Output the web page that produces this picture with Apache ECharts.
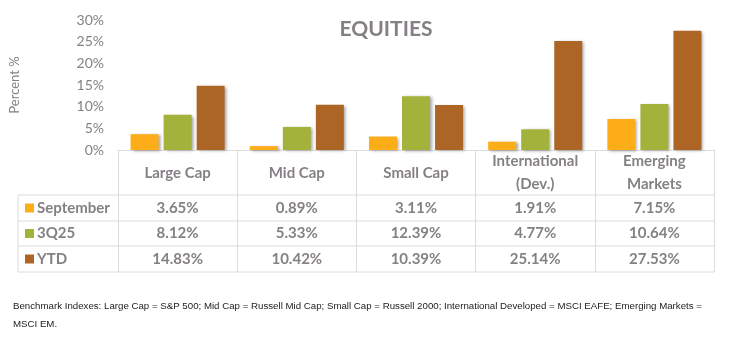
<!DOCTYPE html>
<html><head><meta charset="utf-8">
<script src="https://cdn.jsdelivr.net/npm/echarts@6/dist/echarts.min.js"></script>
<style>html,body{margin:0;padding:0;background:#fff}#c{width:735px;height:346px}</style>
</head><body><div id="c"></div>
<script>
const categories = ['Large Cap', 'Mid Cap', 'Small Cap', 'International\n(Dev.)', 'Emerging\nMarkets'];
const seriesNames = ['September', '3Q25', 'YTD'];
const september = [3.65, 0.89, 3.11, 1.91, 7.15];
const q3 = [8.12, 5.33, 12.39, 4.77, 10.64];
const ytd = [14.83, 10.42, 10.39, 25.14, 27.53];
const seriesColors = ['#FDAD18', '#A3B23A', '#AD6526'];
const footnote = 'Benchmark Indexes: Large Cap = S&P 500; Mid Cap = Russell Mid Cap; Small Cap = Russell 2000; International Developed = MSCI EAFE; Emerging Markets =\nMSCI EM.';

const seriesData = [september, q3, ytd];
const gray = '#858085';
const lineCol = '#DCDCDC';
const FONT = 'Lato, "Noto Sans", sans-serif';

const chart = echarts.init(document.getElementById('c'), null, {renderer: 'canvas'});
const GRID = {left: 118, right: 21, top: 20, bottom: 196};

chart.setOption({
  animation: false,
  textStyle: {fontFamily: FONT},
  title: {
    text: 'EQUITIES', left: 381, top: 14, textAlign: 'center',
    textStyle: {color: gray, fontSize: 21, fontWeight: 'bold', fontFamily: FONT}
  },
  grid: GRID,
  xAxis: {
    type: 'category', data: categories,
    axisLine: {show: true, lineStyle: {color: lineCol, width: 1}},
    axisTick: {show: true, alignWithLabel: false, length: 122, lineStyle: {color: lineCol}},
    axisLabel: {color: gray, fontSize: 15, fontWeight: 'bold', lineHeight: 23, verticalAlign: 'middle', margin: 23, fontFamily: FONT, interval: 0}
  },
  yAxis: {
    type: 'value', min: 0, max: 30, interval: 5,
    name: 'Percent %', nameLocation: 'middle', nameGap: 97, nameRotate: 90,
    nameTextStyle: {color: gray, fontSize: 13, fontFamily: FONT},
    axisLine: {show: false}, axisTick: {show: false}, splitLine: {show: false},
    axisLabel: {formatter: '{value}%', color: gray, fontSize: 14, margin: 14, fontFamily: FONT}
  },
  series: seriesNames.map((n, i) => ({
    name: n, type: 'bar', data: seriesData[i], barWidth: 28, barGap: '18%',
    itemStyle: {color: seriesColors[i], shadowBlur: 3, shadowColor: 'rgba(0,0,0,0.35)', shadowOffsetX: 2, shadowOffsetY: 1}
  }))
});

// Build the data table beneath the axis
const right = 735 - GRID.right;
const tableLeft = 18;
const rowTops = [195, 221, 246, 272];
const g = [];
rowTops.forEach(y => g.push({type: 'line', shape: {x1: tableLeft, y1: y, x2: right, y2: y}, style: {stroke: lineCol, lineWidth: 1}, silent: true}));
g.push({type: 'line', shape: {x1: tableLeft, y1: 195, x2: tableLeft, y2: 272}, style: {stroke: lineCol, lineWidth: 1}});
seriesNames.forEach((n, r) => {
  const cy = (rowTops[r] + rowTops[r + 1]) / 2;
  g.push({type: 'rect', shape: {x: 25, y: cy - 4.5, width: 9, height: 9}, style: {fill: seriesColors[r]}});
  g.push({type: 'text', x: 37, y: cy, style: {text: n, fill: gray, font: 'bold 15px ' + FONT, textVerticalAlign: 'middle', textAlign: 'left'}});
  seriesData[r].forEach((v, c) => {
    const cx = chart.convertToPixel({xAxisIndex: 0}, c);
    g.push({type: 'text', x: cx, y: cy, style: {text: v.toFixed(2) + '%', fill: gray, font: 'bold 15px ' + FONT, textVerticalAlign: 'middle', textAlign: 'center'}});
  });
});
g.push({type: 'text', x: 13, y: 297, style: {text: footnote, fill: '#222', font: '9.7px "Liberation Sans", sans-serif', lineHeight: 18, textAlign: 'left', textVerticalAlign: 'top'}});
chart.setOption({graphic: g});
</script>
</body></html>
